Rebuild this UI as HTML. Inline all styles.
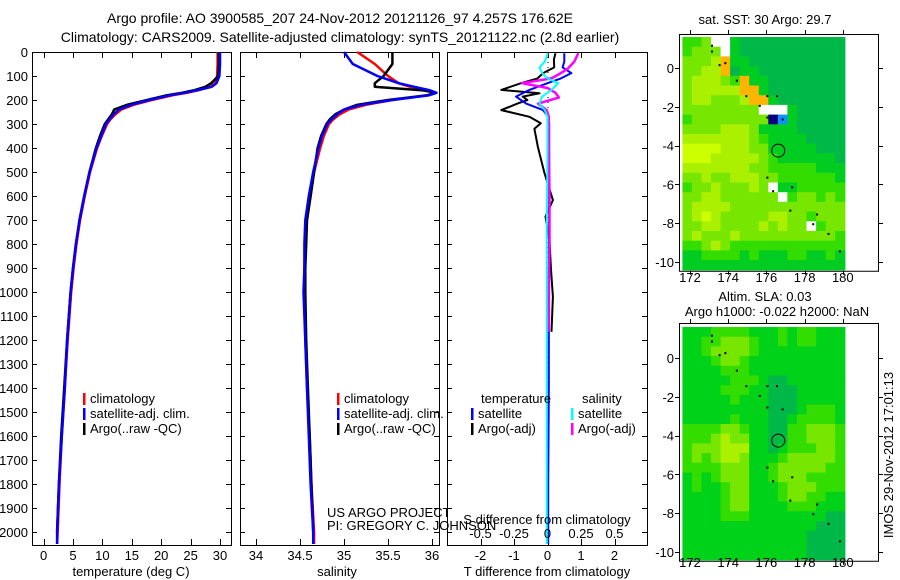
<!DOCTYPE html>
<html><head><meta charset="utf-8">
<style>
html,body{margin:0;padding:0;background:#fff;}
svg{display:block;font-family:"Liberation Sans",sans-serif;}
text{font-size:13px;fill:#000;}
</style></head>
<body>
<svg id="fig" width="900" height="580" viewBox="0 0 900 580" xmlns="http://www.w3.org/2000/svg">
<text x="340" y="23" text-anchor="middle" style="font-size:14px">Argo profile: AO 3900585_207 24-Nov-2012 20121126_97 4.257S 176.62E</text>
<text x="340" y="42" text-anchor="middle" style="font-size:14px">Climatology: CARS2009. Satellite-adjusted climatology: synTS_20121122.nc (2.8d earlier)</text>
<g id="g"></g>
</svg>
<script>
// ---------- data ----------
const depthTicks=[0,100,200,300,400,500,600,700,800,900,1000,1100,1200,1300,1400,1500,1600,1700,1800,1900,2000];
const tempTicks=[0,5,10,15,20,25,30];
const salTicks=[34,34.5,35,35.5,36];
const tdTicks=[-2,-1,0,1,2];
const sdTicks=[-0.5,-0.25,0,0.25,0.5];
const sdTickLabels=["-0.5","-0.25","0","0.25","0.5"];

const profDepth=[0,50,100,130,145,160,170,180,200,220,240,260,280,300,350,400,500,600,700,800,900,1000,1200,1400,1600,1800,2000,2050];
const tempClim=[29.6,29.6,29.5,29.2,28.4,26.2,24.4,22.0,18.4,15.3,13.2,12.2,11.4,10.8,9.9,9.1,7.9,7.0,6.2,5.6,5.1,4.7,4.1,3.6,3.1,2.7,2.4,2.3];
const tempSat=[30.0,30.0,29.9,29.4,28.6,26.0,24.0,21.6,18.0,14.9,12.8,11.9,11.2,10.6,9.8,9.0,7.8,6.9,6.1,5.5,5.0,4.6,4.0,3.6,3.1,2.6,2.3,2.3];
const tempArgo=[29.8,29.8,29.7,28.5,27.5,25.5,23.5,21.0,17.6,14.2,12.0,11.6,11.0,10.4,9.6,8.9,7.8,6.9,6.1,5.5,5.0,4.6,4.0,3.5,3.0,2.6,2.3];
const salClim=[35.15,35.35,35.5,35.62,35.75,35.95,36.02,35.95,35.55,35.25,35.05,34.95,34.88,34.83,34.77,34.73,34.66,34.62,34.58,34.56,34.55,34.55,34.56,34.58,34.61,34.63,34.66,34.66];
const salSat=[35.0,35.1,35.38,35.62,35.8,35.98,36.05,35.97,35.55,35.2,35.0,34.92,34.86,34.81,34.75,34.71,34.65,34.6,34.56,34.55,34.55,34.54,34.56,34.58,34.6,34.62,34.65,34.65];
const salArgo=[35.55,35.55,35.45,35.35,35.35,35.9,36.05,35.95,35.5,35.15,35.0,34.9,34.84,34.8,34.74,34.7,34.66,34.62,34.58,34.57,34.56,34.56,34.57,34.59,34.61,34.63,34.65];

const dDepthT=[5,30,64,88,110,130,158,172,186,200,215,242,270,297,320,394,505,617,686,783,900,1020,1166];
const tDiffArgo=[0.24,0.19,0.2,-0.13,-0.3,-0.79,-1.38,-0.24,-0.74,-0.6,-0.9,-1.38,-0.54,-0.2,-0.39,-0.29,-0.09,0.16,-0.06,0.06,0.1,0.16,0.12];
const dDepthTs=[5,40,64,88,110,130,158,186,215,242,270,297,400,700,1000,1400,1800,2050];
const tDiffSat=[0.5,0.5,0.45,0.71,0.4,0.0,-0.54,-0.94,-0.64,-0.13,0.02,0.05,0.05,0.05,0.04,0.04,0.02,0.02];
const dDepthS=[5,40,64,88,110,130,158,186,215,242,270,297,400,700,1000,1400,1800,2050];
const sDiffSat=[0.002,-0.02,-0.06,-0.04,0.0,0.08,0.03,-0.04,-0.06,-0.02,0.0,0.0,0.0,-0.005,-0.005,-0.005,-0.005,-0.005];
const dDepthSa=[5,40,70,88,110,130,150,170,190,215,242,270,297,400,600,800,1000,1166];
const sDiffArgo=[0.23,0.2,0.15,0.1,0.03,-0.19,0.0,0.06,0.085,-0.07,-0.006,0.01,0.01,0.01,0.015,0.015,0.01,0.01];

const lonTicks=[172,174,176,178,180];
const latTicks=[0,-2,-4,-6,-8,-10];
const sstPalette=["#00b848","#00cc22","#33dd00","#77e600","#aaf000","#ccff00","#ffb400","#ffffff","#000080","#1090ff"];
const sstGrid=["22377100000000000","23337100000000000","33346110000000000","33446011000000000","34443261100000000","34444466100000000","34433346610000000","33333333777100000","23333333389100000","33334443111100000","44444443211110000","55554443311111000","55544444321111110","44444443322222111","33433444332222221","23343334371122222","33443333337233232","34444333333333333","34543333344332333","33443333434337233","34333433333333332","22343222222222222","11222212111221121","11111111111111111"];
const slaPalette=["#00b848","#00d21a","#33dd00","#77e600","#aaf000"];
const slaGrid=["11122221112122111","11223332112122111","11233332111111111","11123321111111111","11112221111111111","11111222100111111","11112221100011111","11111211100011111","11111111100012221","11111211100122221","22223321100223332","22234331100223332","23334441101222332","23234431112333332","22223331123333322","12123331123332222","12112331112333222","11112331112332211","11112331111222111","11112221111111100","11111111111111000","11111111111110000","11111111111110000","11111111111110000"];
const gridLon0=171.6, gridLat0=1.6, cell=0.5;
const argoLon=176.62, argoLat=-4.257;

// ---------- helpers ----------
const NS="http://www.w3.org/2000/svg";
const G=document.getElementById('g');
function mk(tag,attrs,parent){const e=document.createElementNS(NS,tag);for(const k in attrs)e.setAttribute(k,attrs[k]);(parent||G).appendChild(e);return e;}
function txt(x,y,s,anchor,size,parent){const t=mk('text',{x:x,y:y,'text-anchor':anchor||'start'},parent);if(size)t.style.fontSize=size+'px';t.textContent=s;return t;}
const yD=d=>52+d*0.24;
const pTop=52,pBot=545;

function panel(x0,x1,name){
  const r=mk('rect',{x:x0+0.5,y:pTop+0.5,width:x1-x0,height:pBot-pTop,fill:'none',stroke:'#000','stroke-width':1});
  
  
  depthTicks.forEach(d=>{
    const y=Math.round(yD(d))+0.5;
    mk('line',{x1:x0,y1:y,x2:x0+5,y2:y,stroke:'#000'});
    mk('line',{x1:x1-5,y1:y,x2:x1,y2:y,stroke:'#000'});
  });
}
function xticks(xs,labels,fx,name){
  xs.forEach((v,i)=>{
    const x=Math.round(fx(v))+0.5;
    mk('line',{x1:x,y1:pTop,x2:x,y2:pTop+6,stroke:'#000'});
    mk('line',{x1:x,y1:pBot-6,x2:x,y2:pBot,stroke:'#000'});
    const t=txt(fx(v),560,labels[i],'middle');
    
    
  });
}
function line(xs,ds,fx,color,w,name){
  const pts=xs.map((v,i)=>fx(v).toFixed(1)+','+yD(ds[i]).toFixed(1)).join(' ');
  const p=mk('polyline',{points:pts,fill:'none',stroke:color,'stroke-width':w,'stroke-linejoin':'round'});
  
  
}
function legendEntry(x,y,color,label,name){
  mk('rect',{x:x,y:y-10,width:2.5,height:12,fill:color});
  const t=txt(x+7,y,label,'start');
  
  
}

// ---------- panel 1: temperature ----------
const fT=t=>43.6+t*5.88;
panel(32,231,'temperature-panel');
depthTicks.forEach(d=>{const t=txt(28,yD(d)+5,String(d),'end');

});
xticks(tempTicks,tempTicks.map(String),fT,'temperature-x');
line(tempClim,profDepth,fT,'#ff0000',2.5,'temperature-climatology-line');
line(tempArgo,profDepth.slice(0,tempArgo.length),fT,'#000000',2.5,'temperature-argo-line');
line(tempSat,profDepth,fT,'#0000ff',2.5,'temperature-satellite-line');
{const t=txt(131,576,'temperature (deg C)','middle');}
legendEntry(83,403,'#ff0000','climatology','legend-climatology');
legendEntry(83,418,'#0000ff','satellite-adj. clim.','legend-satellite-adj');
legendEntry(83,433,'#000000','Argo(..raw -QC)','legend-argo');

// ---------- panel 2: salinity ----------
const fS=s=>256+(s-34)*88;
panel(240,439,'salinity-panel');
xticks(salTicks,salTicks.map(String),fS,'salinity-x');
line(salClim,profDepth,fS,'#ff0000',2.5,'salinity-climatology-line');
line(salArgo,profDepth.slice(0,salArgo.length),fS,'#000000',2.5,'salinity-argo-line');
line(salSat,profDepth,fS,'#0000ff',2.5,'salinity-satellite-line');
{const t=txt(337,576,'salinity','middle');}
legendEntry(337,403,'#ff0000','climatology','legend-climatology-2');
legendEntry(337,418,'#0000ff','satellite-adj. clim.','legend-satellite-adj-2');
legendEntry(337,433,'#000000','Argo(..raw -QC)','legend-argo-2');
{const t=txt(327,517,'US ARGO PROJECT');
const t2=txt(327,530,'PI: GREGORY C. JOHNSON');}

// ---------- panel 3: differences ----------
const fTD=v=>547.5+v*33.5;
const fSD=v=>547.5+v*134;
panel(447,647,'difference-panel');
xticks(tdTicks,tdTicks.map(String),fTD,'tdiff-x');
mk('line',{x1:548,y1:pTop,x2:548,y2:pBot,stroke:'#000','stroke-dasharray':'1,4'});
line(tDiffArgo,dDepthT,fTD,'#000000',2,'tdiff-argo-line');
line(tDiffSat,dDepthTs,fTD,'#0000ff',2,'tdiff-satellite-line');
line(sDiffArgo,dDepthSa,fSD,'#ff00ff',2.5,'sdiff-argo-line');
line(sDiffSat,dDepthS,fSD,'#00ffff',2,'sdiff-satellite-line');
sdTicks.forEach((v,i)=>{const t=txt(fSD(v),538,sdTickLabels[i],'middle');

});
{const t=txt(547,524,'S difference from climatology','middle');
const t2=txt(547,576,'T difference from climatology','middle');}
{const a=txt(481,403,'temperature');
const b=txt(582,403,'salinity');}
legendEntry(471,418,'#0000ff','satellite','legend-t-satellite');
legendEntry(471,433,'#000000','Argo(-adj)','legend-t-argo');
legendEntry(571,418,'#00ffff','satellite','legend-s-satellite');
legendEntry(571,433,'#ff00ff','Argo(-adj)','legend-s-argo');

// ---------- maps ----------
function map(y0,lat0y,palette,grid,name,labY){
  const fx=lon=>690+(lon-172)*19.1;
  const fy=lat=>lat0y-lat*19.4;
  grid.forEach((row,r)=>{
    for(let c=0;c<row.length;c++){
      const lon=gridLon0+c*cell, lat=gridLat0-r*cell;
      const x=fx(lon), y=fy(lat);
      const cellEl=mk('rect',{x:x.toFixed(1),y:y.toFixed(1),width:(cell*19.1+0.6).toFixed(1),height:(cell*19.4+0.6).toFixed(1),fill:palette[+row[c]]});
      
      
    }
  });
  const yb=fy(-10.4)+1;
  const fr=mk('rect',{x:679.5,y:y0+0.5,width:199,height:yb-y0,fill:'none',stroke:'#000'});
  
  
  lonTicks.forEach(l=>{const x=Math.round(fx(l))+0.5;
    mk('line',{x1:x,y1:y0-4,x2:x,y2:y0,stroke:'#000'});
    mk('line',{x1:x,y1:yb,x2:x,y2:yb+4,stroke:'#000'});
    const t=txt(fx(l),labY,String(l),'middle');
    
    });
  latTicks.forEach(l=>{const y=Math.round(fy(l))+0.5;
    mk('line',{x1:675,y1:y,x2:679,y2:y,stroke:'#000'});
    mk('line',{x1:879,y1:y,x2:883,y2:y,stroke:'#000'});
    const t=txt(674,fy(l)+5,String(l),'end');
    
    });
  [[173.1,1.2],[173.1,0.9],[173.5,0.2],[173.8,0.3],[174.4,-0.6],[174.9,-1.4],[176,-1.4],[176.5,-1.4],[175.6,-1.9],[176,-2.5],[176.8,-2.6],[176,-5.6],[176.3,-6.3],[177.3,-6.1],[177.2,-7.3],[178.6,-7.5],[178.4,-8],[179.2,-8.5],[179.8,-9.4]].forEach(p=>{
    mk('rect',{x:fx(p[0]),y:fy(p[1]),width:2,height:2,fill:'#000'});
  });
  const c=mk('circle',{cx:fx(argoLon),cy:fy(argoLat),r:6.5,fill:'none',stroke:'#000','stroke-width':1});
  
  
}
map(34,68,sstPalette,sstGrid,'sst-map',282);
map(323,358,slaPalette,slaGrid,'sla-map',567);
{const t=txt(765,24,'sat. SST: 30 Argo: 29.7','middle');
const a=txt(765,301,'Altim. SLA: 0.03','middle');
const b=txt(777,316,'Argo h1000: -0.022 h2000: NaN','middle');
const r=txt(0,0,'IMOS 29-Nov-2012 17:01:13','middle');r.setAttribute('transform','translate(893,455) rotate(-90)');}
</script>
</body></html>
